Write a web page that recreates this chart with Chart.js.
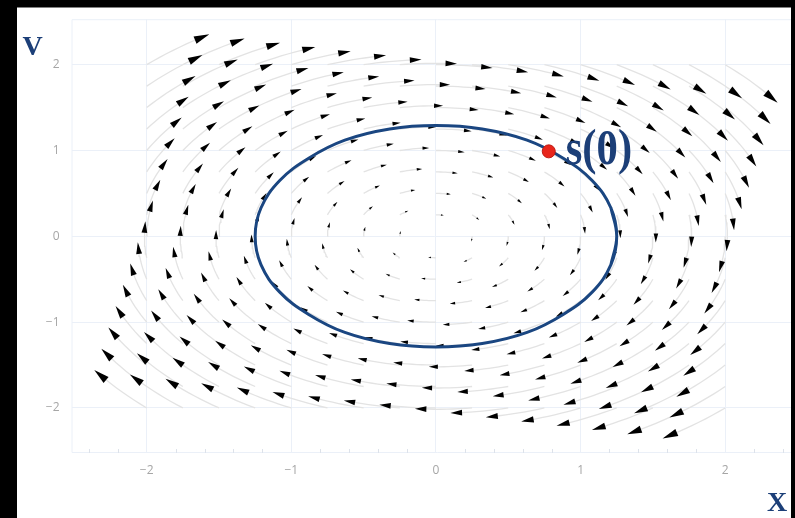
<!DOCTYPE html>
<html><head><meta charset="utf-8">
<script src="https://cdn.jsdelivr.net/npm/chart.js@4.4.1/dist/chart.umd.min.js"></script>
<style>
html,body{margin:0;padding:0;background:#000;}
#wrap{position:relative;width:795px;height:518px;overflow:hidden;background:#000;}
#c{position:absolute;left:0;top:0;}
</style></head><body>
<div id="wrap"><canvas id="c" width="812" height="518"></canvas></div>
<script>
// ---- data ----
const gridX = [-2, -1.75, -1.5, -1.25, -1, -0.75, -0.5, -0.25, 0, 0.25, 0.5, 0.75, 1, 1.25, 1.5, 1.75, 2];
const gridV = [-2, -1.75, -1.5, -1.25, -1, -0.75, -0.5, -0.25, 0, 0.25, 0.5, 0.75, 1, 1.25, 1.5, 1.75, 2];
const flowTime = 0.175;         // length of each flow segment (arrow tail)
const orbitX = [1.25, 1.21, 1.08, 0.88, 0.63, 0.32, 0, -0.32, -0.63, -0.88, -1.08, -1.21,
                -1.25, -1.21, -1.08, -0.88, -0.63, -0.32, 0, 0.32, 0.63, 0.88, 1.08, 1.21];
const orbitV = [0, 0.33, 0.65, 0.91, 1.12, 1.25, 1.29, 1.25, 1.12, 0.91, 0.65, 0.33,
                0, -0.33, -0.65, -0.91, -1.12, -1.25, -1.29, -1.25, -1.12, -0.91, -0.65, -0.33];
const startX = [0.78];
const startV = [0.99];
const startLabel = 's(0)';
const xTicks = [-2, -1, 0, 1, 2];
const yTicks = [-2, -1, 0, 1, 2];
const xMinorTicks = [-2.4, -2.2, -1.8, -1.6, -1.4, -1.2, -0.8, -0.6, -0.4, -0.2, 0.2, 0.4, 0.6, 0.8, 1.2, 1.4, 1.6, 1.8, 2.2, 2.4];
const xTitle = 'X';
const yTitle = 'V';

// ---- build datasets (system x' = v, v' = -x) ----
const tailData = [];
const headData = [];
const SEG = 8;
gridX.forEach(x0 => gridV.forEach(v0 => {
  const r = Math.hypot(x0, v0);
  if (r === 0) return;
  for (let k = 0; k <= SEG; k++) {
    const t = flowTime * k / SEG;
    tailData.push({x: x0 * Math.cos(t) + v0 * Math.sin(t), y: -x0 * Math.sin(t) + v0 * Math.cos(t)});
  }
  tailData.push({x: null, y: null});
  const t = flowTime;
  headData.push({x: x0 * Math.cos(t) + v0 * Math.sin(t), y: -x0 * Math.sin(t) + v0 * Math.cos(t), r: r});
}));
const orbitPts = orbitX.map((x, i) => ({x: x, y: orbitV[i]}));
const orbitData = [orbitPts[orbitPts.length - 1], ...orbitPts, orbitPts[0], orbitPts[1]];
const startData = startX.map((x, i) => ({x: x, y: startV[i]}));

const GRID = '#ebf0f8';
const NAVY = '#1c3f78';
const fmt = v => (v < 0 ? '\u2212' + Math.abs(v) : String(v));

const framePlugin = {
  id: 'frame',
  beforeDraw(chart) {
    const ctx = chart.ctx;
    ctx.save();
    ctx.fillStyle = '#000';
    ctx.fillRect(0, 0, chart.width, chart.height);
    ctx.fillStyle = '#fff';
    ctx.fillRect(17, 7.5, chart.width - 17, chart.height - 7.5);
    ctx.restore();
  },
  beforeDatasetsDraw(chart) {
    const ctx = chart.ctx, a = chart.chartArea, xs = chart.scales.x;
    ctx.save();
    ctx.strokeStyle = GRID;
    ctx.lineWidth = 1;
    ctx.beginPath();
    ctx.moveTo(a.right + 5, a.top + 0.5); ctx.lineTo(a.left + 0.5, a.top + 0.5);
    ctx.lineTo(a.left + 0.5, a.bottom - 0.5); ctx.lineTo(a.right + 5, a.bottom - 0.5);
    ctx.stroke();
    ctx.strokeStyle = '#dde2ea';
    ctx.beginPath();
    xMinorTicks.forEach(v => {
      const px = Math.round(xs.getPixelForValue(v)) + 0.5;
      ctx.moveTo(px, a.bottom); ctx.lineTo(px, a.bottom - 4);
    });
    ctx.stroke();
    ctx.restore();
  },
  afterDatasetDraw(chart, args) {
    const ds = chart.data.datasets[args.index];
    if (ds.label !== 'heads') return;
    const ctx = chart.ctx, xs = chart.scales.x, ys = chart.scales.y, a = chart.chartArea;
    const ux = xs.getPixelForValue(1) - xs.getPixelForValue(0);
    const uy = ys.getPixelForValue(1) - ys.getPixelForValue(0);
    ctx.save();
    ctx.beginPath(); ctx.rect(a.left, a.top, a.right - a.left, a.bottom - a.top); ctx.clip();
    ctx.fillStyle = '#000';
    args.meta.data.forEach((el, i) => {
      const d = ds.data[i];
      let dx = d.y * ux, dy = -d.x * uy;
      const n = Math.hypot(dx, dy); if (!n) return;
      dx /= n; dy /= n;
      const L = 1.6 + 4.9 * d.r, W = 0.5 * L;
      const cx = el.x, cy = el.y;
      const tx = cx + dx * L * 0.55, ty = cy + dy * L * 0.55;
      const bx = cx - dx * L * 0.45, by = cy - dy * L * 0.45;
      ctx.beginPath();
      ctx.moveTo(tx, ty);
      ctx.lineTo(bx - dy * W / 2, by + dx * W / 2);
      ctx.lineTo(bx + dy * W / 2, by - dx * W / 2);
      ctx.closePath();
      ctx.fill();
    });
    ctx.restore();
  },
  afterDraw(chart) {
    const ctx = chart.ctx, xs = chart.scales.x, ys = chart.scales.y;
    ctx.save();
    ctx.fillStyle = NAVY;
    ctx.textBaseline = 'alphabetic';
    ctx.font = 'bold 44px "Liberation Serif"';
    ctx.textAlign = 'left';
    ctx.save();
    ctx.translate(xs.getPixelForValue(startX[0]) + 17, ys.getPixelForValue(startV[0]) + 13);
    ctx.scale(0.97, 1.15);
    ctx.fillText(startLabel, 0, 0);
    ctx.restore();
    ctx.font = 'bold 28px "Liberation Serif"';
    ctx.textAlign = 'center';
    ctx.fillText(yTitle, 32.5, 55);
    ctx.fillText(xTitle, 777, 511);
    ctx.fillStyle = '#000';
    ctx.fillRect(791, 0, chart.width - 791, chart.height);
    ctx.restore();
  }
};

new Chart(document.getElementById('c'), {
  type: 'scatter',
  data: {
    datasets: [
      {label: 'start', data: startData, pointRadius: 6.5, pointBackgroundColor: '#e8251b', pointBorderColor: '#c01c13', pointBorderWidth: 1},
      {label: 'orbit', data: orbitData, showLine: true, borderColor: '#1a4681', borderWidth: 3, tension: 0.4, pointRadius: 0, fill: false},
      {label: 'heads', data: headData, pointRadius: 0, showLine: false},
      {label: 'tails', data: tailData, showLine: true, spanGaps: false, borderColor: '#e3e3e3', borderWidth: 1.3, pointRadius: 0, tension: 0}
    ]
  },
  options: {
    responsive: false,
    animation: false,
    events: [],
    devicePixelRatio: 1,
    layout: {padding: {left: 0, top: 17, right: 14.5, bottom: 0}},
    plugins: {legend: {display: false}, tooltip: {enabled: false}},
    scales: {
      x: {
        type: 'linear', min: -2.52, max: 2.5,
        afterBuildTicks: s => { s.ticks = xTicks.map(v => ({value: v})); },
        afterFit: s => { s.height = 65; },
        grid: {color: GRID, lineWidth: 1, drawTicks: false},
        border: {display: false},
        ticks: {padding: 10, color: '#a6a6a6', font: {family: '"Open Sans"', size: 12}, callback: v => fmt(v), maxRotation: 0, autoSkip: false}
      },
      y: {
        type: 'linear', min: -2.525, max: 2.53,
        afterBuildTicks: s => { s.ticks = yTicks.map(v => ({value: v})); },
        afterFit: s => { s.width = 71.5; },
        grid: {color: GRID, lineWidth: 1, drawTicks: false},
        border: {display: false},
        ticks: {padding: 12, color: '#a6a6a6', font: {family: '"Open Sans"', size: 12}, callback: v => fmt(v), autoSkip: false}
      }
    }
  },
  plugins: [framePlugin]
});
</script>
</body></html>
